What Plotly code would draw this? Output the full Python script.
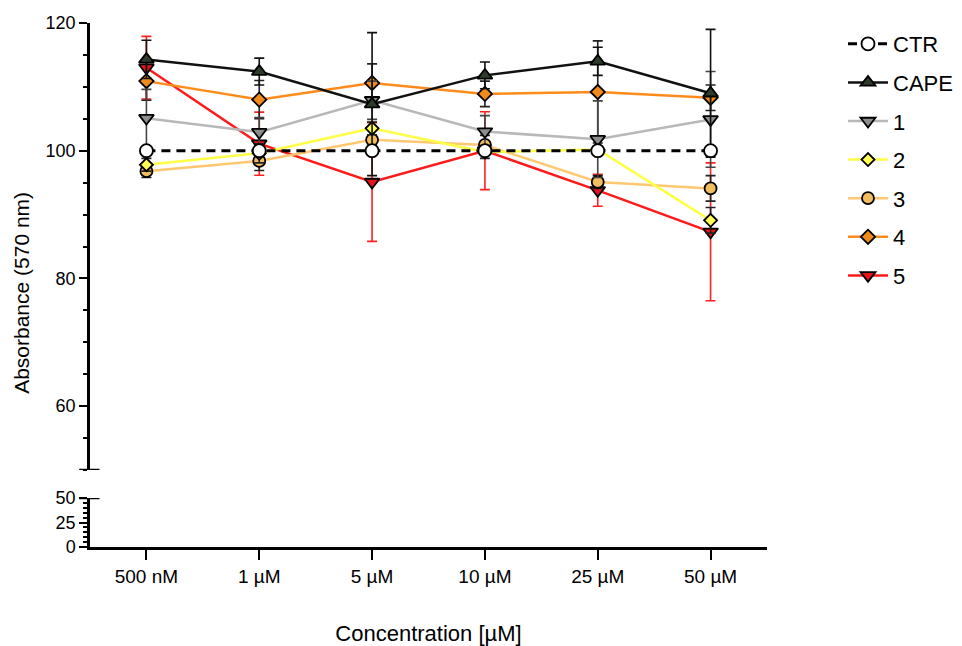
import plotly.graph_objects as go

categories = ["500 nM", "1 µM", "5 µM", "10 µM", "25 µM", "50 µM"]
xpos = [0, 1, 2, 3, 4, 5]

ctr = [100, 100, 100, 100, 100, 100]
cape = [114.3, 112.4, 107.3, 111.8, 114.0, 109.0]
cape_err = [3.0, 2.1, 11.2, 2.1, 2.2, 10.0]
s1 = [105.1, 102.9, 107.9, 103.0, 101.8, 104.9]
s1_err = [4.5, 2.3, 3.0, 2.5, 6.0, 7.5]
s2 = [97.8, 99.6, 103.5, 99.8, 100.2, 89.1]
s2_err = [1.0, 1.5, 1.0, 1.0, 0.5, 2.0]
s3 = [96.8, 98.4, 101.7, 100.9, 95.1, 94.1]
s3_err = [1.0, 1.5, 1.5, 1.5, 1.0, 2.0]
s4 = [110.9, 108.0, 110.6, 108.9, 109.2, 108.3]
s4_err = [3.0, 3.0, 3.0, 2.0, 8.0, 2.0]
s5 = [113.0, 101.1, 95.1, 100.0, 93.8, 87.3]
s5_err = [4.9, 4.95, 9.3, 6.1, 2.5, 10.8]

FONT = "Liberation Sans, Arial, sans-serif"

series = [
    # name, y, err, line color, dash, marker symbol, marker fill, err color, size, rank
    ("5", s5, s5_err, "#ff1a1a", "solid", "triangle-down", "#e8141a", "#ff2020", 13, 7),
    ("4", s4, s4_err, "#ff8c1a", "solid", "diamond", "#f08a1a", "#222222", 11, 6),
    ("3", s3, s3_err, "#ffc870", "solid", "circle", "#f2bd5e", "#222222", 12, 5),
    ("2", s2, s2_err, "#ffff44", "solid", "diamond", "#ffff55", "#222222", 10, 4),
    ("1", s1, s1_err, "#b8b8b8", "solid", "triangle-down", "#8c8c8c", "#444444", 13, 3),
    ("CAPE", cape, cape_err, "#111111", "solid", "triangle-up", "#2f3b2b", "#111111", 13, 2),
    ("CTR", ctr, None, "#000000", "9px,6px", "circle", "#ffffff", "#000000", 13, 1),
]

fig = go.Figure()
for name, y, err, lc, dash, sym, fill, ec, size, rank in series:
    kw = {}
    if err is not None:
        kw["error_y"] = dict(type="data", array=err, visible=True, color=ec,
                             thickness=1.6, width=5)
    lw = 3 if name == "CTR" else 2.5
    fig.add_trace(go.Scatter(
        x=xpos, y=y, name=name, mode="lines+markers",
        line=dict(color=lc, width=lw, dash=dash),
        marker=dict(symbol=sym, size=size, color=fill,
                    line=dict(color="#000000", width=1.8)),
        legendrank=rank, legendgroup=name,
        xaxis="x", yaxis="y", **kw))

axis_line = dict(showline=True, linecolor="black", linewidth=2.5,
                 showgrid=False, zeroline=False, ticks="outside",
                 tickcolor="black", tickwidth=2.2)
yfont = dict(family=FONT, size=18, color="black")

plot_h = 646 - 23 - 99
upper_bottom = (547 - 470) / plot_h
lower_top = (547 - 498) / plot_h
plot_w = 962 - 90 - 195

fig.update_layout(
    width=962, height=646,
    margin=dict(l=90, r=195, t=23, b=99, autoexpand=False),
    paper_bgcolor="white", plot_bgcolor="white",
    font=dict(family=FONT, color="black"),
    showlegend=True,
    legend=dict(x=(843 - 90) / plot_w, y=1.0, xanchor="left", yanchor="top",
                font=dict(family=FONT, size=22, color="black"),
                itemwidth=40, tracegroupgap=7, bgcolor="rgba(0,0,0,0)"),
    xaxis=dict(anchor="y2", domain=[0, 1], range=[-0.5, 5.5],
               tickmode="array", tickvals=xpos, ticktext=categories,
               ticklen=10, **axis_line,
               tickfont=dict(family=FONT, size=19, color="black"),
               title=dict(text="Concentration [µM]", standoff=42,
                          font=dict(family=FONT, size=22, color="black"))),
    yaxis=dict(domain=[upper_bottom, 1], range=[50, 120], anchor="x",
               tickmode="array", tickvals=[60, 80, 100, 120], ticklen=8,
               minor=dict(tickmode="linear", tick0=0, dtick=5, ticklen=4,
                          ticks="outside", tickcolor="black", tickwidth=2),
               tickfont=yfont, **axis_line),
    yaxis2=dict(domain=[0, lower_top], range=[0, 50], anchor="x",
                tickmode="array", tickvals=[0, 25, 50], ticklen=8,
                minor=dict(tickmode="linear", tick0=0, dtick=5, ticklen=4,
                           ticks="outside", tickcolor="black", tickwidth=2),
                tickfont=yfont, **axis_line),
)

# axis-break caps
for yref in ["y", "y2"]:
    fig.add_shape(type="line", xref="x domain", yref=yref,
                  x0=-0.016, x1=0.014, y0=50, y1=50,
                  line=dict(color="black", width=2.5))

fig.add_annotation(text="Absorbance (570 nm)", textangle=-90,
                   xref="paper", yref="paper", x=(22 - 90) / plot_w, y=0.485,
                   xanchor="center", yanchor="middle",
                   showarrow=False,
                   font=dict(family=FONT, size=21, color="black"))

fig.write_html("out.html", config={"displayModeBar": False},
               post_script="document.body.style.margin='0';")
